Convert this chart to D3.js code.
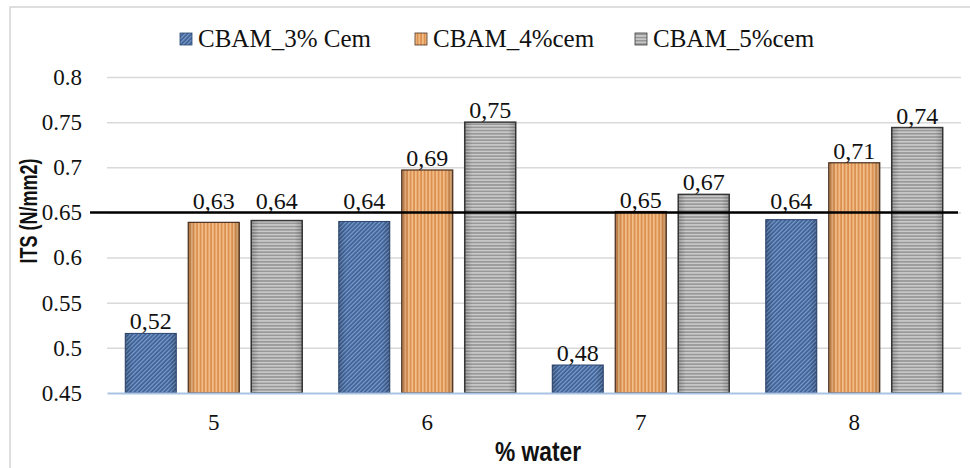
<!DOCTYPE html>
<meta charset="utf-8">
<script src="https://d3js.org/d3.v7.min.js"></script>
<style>
    body { margin: 0; background: #fff; }
</style>
<div id="my_dataviz"></div>
<script>

    // data
    var categories = ["5", "6", "7", "8"];
    var seriesNames = ["CBAM_3% Cem", "CBAM_4%cem", "CBAM_5%cem"];
    var cem3 = [0.516, 0.640, 0.481, 0.642];
    var cem4 = [0.639, 0.697, 0.651, 0.705];
    var cem5 = [0.641, 0.750, 0.670, 0.744];
    var labels3 = ["0,52", "0,64", "0,48", "0,64"];
    var labels4 = ["0,63", "0,69", "0,65", "0,71"];
    var labels5 = ["0,64", "0,75", "0,67", "0,74"];
    var yTicks = [0.45, 0.5, 0.55, 0.6, 0.65, 0.7, 0.75, 0.8];
    var limitValue = 0.65;

    var SERIF = '"Liberation Serif", "Times New Roman", "DejaVu Serif", serif';
    var SANS = '"Liberation Sans", Arial, sans-serif';

    var W = 970, H = 468;
    var margin = {top: 77, right: 9, bottom: 75, left: 107},
        width = W - margin.left - margin.right,
        height = H - margin.top - margin.bottom;

    var svg = d3.select("#my_dataviz")
        .append("svg")
        .attr("width", W)
        .attr("height", H);

    // patterns for the bars
    var defs = svg.append("defs");

    var pBlue = defs.append("pattern").attr("id", "pBlue")
        .attr("patternUnits", "userSpaceOnUse").attr("width", 3).attr("height", 3)
        .attr("patternTransform", "rotate(45)");
    pBlue.append("rect").attr("width", 3).attr("height", 3).attr("fill", "#3d6197");
    pBlue.append("rect").attr("width", 1.2).attr("height", 3).attr("fill", "#7f9ecb");

    var pOrange = defs.append("pattern").attr("id", "pOrange")
        .attr("patternUnits", "userSpaceOnUse").attr("width", 3.5).attr("height", 4);
    pOrange.append("rect").attr("width", 3.5).attr("height", 4).attr("fill", "#dc9152");
    pOrange.append("rect").attr("width", 1.6).attr("height", 4).attr("fill", "#f3c08a");

    var pGray = defs.append("pattern").attr("id", "pGray")
        .attr("patternUnits", "userSpaceOnUse").attr("width", 4).attr("height", 3.2);
    pGray.append("rect").attr("width", 4).attr("height", 3.2).attr("fill", "#979797");
    pGray.append("rect").attr("width", 4).attr("height", 1.5).attr("fill", "#cdcdcd");

    // soft shading on bar edges
    var shade = defs.append("linearGradient").attr("id", "shade")
        .attr("x1", "0%").attr("x2", "100%").attr("y1", "0%").attr("y2", "0%");
    shade.append("stop").attr("offset", "0%").attr("stop-color", "#000").attr("stop-opacity", 0.2);
    shade.append("stop").attr("offset", "15%").attr("stop-color", "#000").attr("stop-opacity", 0);
    shade.append("stop").attr("offset", "85%").attr("stop-color", "#000").attr("stop-opacity", 0);
    shade.append("stop").attr("offset", "100%").attr("stop-color", "#000").attr("stop-opacity", 0.2);

    var fills = ["url(#pBlue)", "url(#pOrange)", "url(#pGray)"];
    var strokes = ["#2c4670", "#4a3020", "#3a3a3a"];
    var strokeW = [1, 1.2, 1.5];

    // chart frame
    svg.append("rect")
        .attr("x", 10).attr("y", 7)
        .attr("width", W + 20).attr("height", H + 20)
        .attr("fill", "none").attr("stroke", "#d4d4d4").attr("stroke-width", 1.5);

    var g = svg.append("g")
        .attr("transform", "translate(" + margin.left + "," + margin.top + ")");

    // scales
    var x0 = d3.scaleBand().domain(categories).range([0, width]).padding(0);
    var x1 = d3.scaleBand().domain(seriesNames).range([0, x0.bandwidth()])
        .paddingInner(0.19).paddingOuter(0.29);
    var y = d3.scaleLinear().domain([0.45, 0.8]).range([height, 0]);

    // y axis with gridlines
    var yAxis = g.append("g")
        .call(d3.axisLeft(y).tickValues(yTicks)
            .tickSizeInner(-width).tickSizeOuter(0).tickPadding(25)
            .tickFormat(function (d) { return String(+d.toFixed(2)); }));
    yAxis.select(".domain").remove();
    yAxis.selectAll(".tick line").attr("stroke", "#d9d9d9").attr("stroke-width", 1.5);
    yAxis.selectAll(".tick text")
        .style("font-family", SERIF).style("font-size", "23px").attr("fill", "#111");
    yAxis.selectAll(".tick").filter(function (d) { return d === 0.45; }).select("line").remove();

    // build table for bars
    var table = categories.map(function (c, i) {
        return {
            cat: c,
            vals: [
                {s: seriesNames[0], k: 0, v: cem3[i], lab: labels3[i]},
                {s: seriesNames[1], k: 1, v: cem4[i], lab: labels4[i]},
                {s: seriesNames[2], k: 2, v: cem5[i], lab: labels5[i]}
            ]
        };
    });

    var groups = g.append("g").selectAll("g")
        .data(table)
        .enter().append("g")
        .attr("transform", function (d) { return "translate(" + x0(d.cat) + ",0)"; });

    groups.selectAll("rect.bar")
        .data(function (d) { return d.vals; })
        .enter().append("rect")
        .attr("class", "bar")
        .attr("x", function (d) { return x1(d.s); })
        .attr("y", function (d) { return y(d.v); })
        .attr("width", x1.bandwidth())
        .attr("height", function (d) { return height - y(d.v); })
        .attr("fill", function (d) { return fills[d.k]; })
        .attr("stroke", function (d) { return strokes[d.k]; })
        .attr("stroke-width", function (d) { return strokeW[d.k]; });

    groups.selectAll("rect.shade")
        .data(function (d) { return d.vals; })
        .enter().append("rect")
        .attr("class", "shade")
        .attr("x", function (d) { return x1(d.s); })
        .attr("y", function (d) { return y(d.v); })
        .attr("width", x1.bandwidth())
        .attr("height", function (d) { return height - y(d.v); })
        .attr("fill", "url(#shade)");

    // value labels
    var lineY = y(limitValue);
    groups.selectAll("text.val")
        .data(function (d) { return d.vals; })
        .enter().append("text")
        .attr("class", "val")
        .attr("x", function (d) { return x1(d.s) + x1.bandwidth() / 2; })
        .attr("y", function (d) {
            var top = y(d.v);
            if (top > lineY && top - lineY < 25) return lineY - 3;
            return top - 4;
        })
        .attr("text-anchor", "middle")
        .style("font-family", SERIF)
        .style("font-size", "24px")
        .attr("fill", "#111")
        .text(function (d) { return d.lab; });

    // x axis baseline and labels
    var xAxis = g.append("g")
        .attr("transform", "translate(0," + height + ")")
        .call(d3.axisBottom(x0).tickSize(0).tickPadding(21));
    xAxis.select(".domain").attr("stroke", "#a9c3e3").attr("stroke-width", 2);
    xAxis.selectAll(".tick text")
        .style("font-family", SERIF).style("font-size", "23px").attr("fill", "#111");

    // limit line at 0.65
    g.append("line")
        .attr("x1", -17).attr("x2", width - 3)
        .attr("y1", lineY).attr("y2", lineY)
        .attr("stroke", "#000").attr("stroke-width", 2.5);

    // axis titles
    svg.append("text")
        .attr("transform", "translate(37,211) rotate(-90) scale(0.9,1.2)")
        .attr("text-anchor", "middle")
        .style("font-family", SANS)
        .style("font-weight", "bold")
        .style("font-size", "20px")
        .attr("fill", "#111")
        .text("ITS (N/mm2)");

    svg.append("text")
        .attr("transform", "translate(538,461) scale(0.95,1.15)")
        .attr("text-anchor", "middle")
        .style("font-family", SANS)
        .style("font-weight", "bold")
        .style("font-size", "24px")
        .attr("fill", "#111")
        .text("% water");

    // legend
    var legendX = [180, 415, 635];
    var legend = svg.append("g").selectAll("g")
        .data(seriesNames)
        .enter().append("g")
        .attr("transform", function (d, i) { return "translate(" + legendX[i] + ",0)"; });

    legend.append("rect")
        .attr("x", 0).attr("y", 33)
        .attr("width", 12).attr("height", 12)
        .attr("fill", function (d, i) { return fills[i]; })
        .attr("stroke", function (d, i) { return strokes[i]; })
        .attr("stroke-width", 0.8);

    legend.append("text")
        .attr("x", 18).attr("y", 47)
        .style("font-family", SERIF)
        .style("font-size", "25px")
        .attr("fill", "#111")
        .text(function (d) { return d; });

</script>
